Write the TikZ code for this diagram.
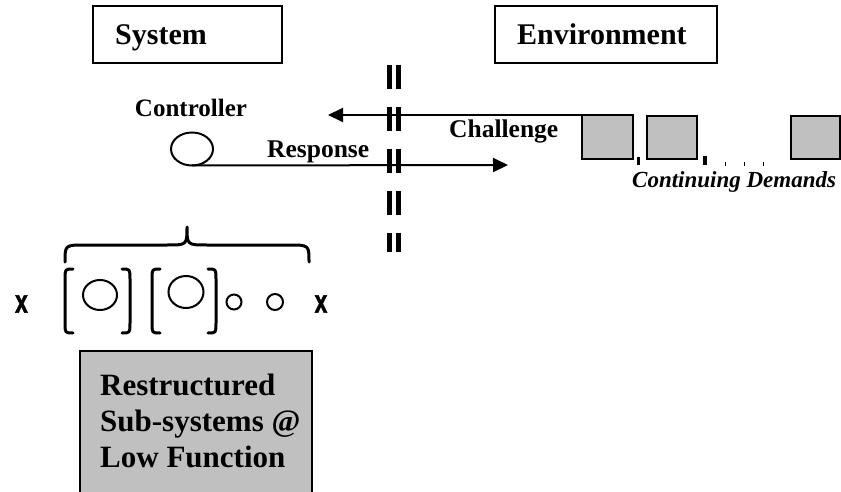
\documentclass[tikz,border=0pt]{standalone}
\usepackage{fontspec}
\setmainfont{Liberation Serif}
\newfontfamily\xmarkfont[BoldFeatures={FakeBold=1.5}]{Liberation Sans}
\usetikzlibrary{arrows.meta,shapes.geometric}
\definecolor{boxgray}{HTML}{C0C0C0}
\begin{document}
\begin{tikzpicture}[x=1pt,y=-1pt,
  titlebox/.style={draw=black, line width=1.2pt, inner sep=0pt, outer sep=0pt, anchor=north west},
  titletext/.style={inner sep=0pt, anchor=base west, font=\bfseries\fontsize{30}{36}\selectfont},
  armlabel/.style={inner sep=0pt, anchor=base west, font=\bfseries\fontsize{25.5}{30}\selectfont},
  boxtext/.style={inner sep=0pt, anchor=base west, font=\bfseries\fontsize{31}{36}\selectfont},
  demand/.style={draw=black, line width=2.5pt, fill=boxgray, inner sep=0pt, outer sep=0pt, anchor=north west},
  arrowline/.style={line width=2pt, -{Triangle[length=15pt,width=14pt]}},
  sepbar/.style={line width=5pt, dash pattern=on 24pt off 18pt},
  bracketline/.style={line width=3pt, line cap=round, line join=round},
  ring/.style={ellipse, draw=black, line width=2pt, inner sep=0pt, outer sep=0pt},
  tick/.style={line width=#1},
  xmark/.style={inner sep=0pt}
]
\useasboundingbox (0,0) rectangle (841,492);

% title boxes
\node[titlebox, minimum width=189pt, minimum height=57pt] (sysbox) at (93,6) {};
\node[titletext] (systxt) at (115,45) {System};
\node[titlebox, minimum width=222pt, minimum height=57pt] (envbox) at (495,6) {};
\node[titletext] (envtxt) at (517,45) {Environment};

% controller
\node[ring, minimum width=42pt, minimum height=33pt] (ctrl) at (192,149) {};
\node[inner sep=0pt, anchor=base, font=\bfseries\fontsize{25}{30}\selectfont] (ctrltxt) at (191,117) {Controller};

% demands
\node[demand, minimum width=51pt, minimum height=44pt] (d1) at (582,115) {};
\node[demand, minimum width=50pt, minimum height=43pt] (d2) at (647,116) {};
\node[demand, minimum width=49pt, minimum height=43pt] (d3) at (791,116) {};
\draw[tick=3pt] (638,157) -- (638,165);
\draw[tick=4pt] (705,156) -- (705,165);
\draw[tick=1pt] (725,162) -- (725,166);
\draw[tick=1pt] (744,162) -- (744,166);
\draw[tick=1pt] (763,162) -- (763,166);
\node[inner sep=0pt, anchor=base west, font=\bfseries\itshape\fontsize{23}{28}\selectfont] (demtxt) at (632,188) {Continuing Demands};

% arrows
\coordinate (chEnd) at (328,115);
\coordinate (respEnd) at (508,165);
\draw[arrowline] (d1.north west) -- (chEnd);
\draw[arrowline] (ctrl.south) -- (respEnd);
\node[armlabel] (resptxt) at (267,158) {Response};
\node[armlabel] (chtxt) at (449,138) {Challenge};

% separator
\coordinate (sepTopA) at (389.5,65);
\coordinate (sepBotA) at (389.5,252);
\coordinate (sepTopB) at (398.5,65);
\coordinate (sepBotB) at (398.5,252);
\draw[sepbar] (sepTopA) -- (sepBotA);
\draw[sepbar] (sepTopB) -- (sepBotB);

% brace
\draw[bracketline] (65,262) .. controls (65,245) .. (85,245) -- (167,245)
  .. controls (187,245) .. (187,227) .. controls (187,245) .. (207,245)
  -- (289,245) .. controls (309,245) .. (309,262);

% brackets
\draw[bracketline] (73,269) .. controls (65,269) .. (65,279) -- (65,323) .. controls (65,333) .. (73,333);
\draw[bracketline] (122,269) .. controls (130,269) .. (130,279) -- (130,323) .. controls (130,333) .. (122,333);
\draw[bracketline] (160,269) .. controls (152,269) .. (152,279) -- (152,323) .. controls (152,333) .. (160,333);
\draw[bracketline] (208,269) .. controls (216,269) .. (216,279) -- (216,323) .. controls (216,333) .. (208,333);

% sub-system circles
\node[ring, minimum width=34pt, minimum height=30pt] (c1) at (100,295) {};
\node[ring, minimum width=35pt, minimum height=32pt] (c2) at (186,292) {};
\node[ring, minimum width=15pt, minimum height=15pt] (s1) at (234,302) {};
\node[ring, minimum width=16pt, minimum height=16pt] (s2) at (275,302) {};

% x marks
\node[xmark] (xl) at (21.5,304) {\scalebox{0.7}[1]{\xmarkfont\bfseries\fontsize{33}{33}\selectfont x}};
\node[xmark] (xr) at (321,304) {\scalebox{0.7}[1]{\xmarkfont\bfseries\fontsize{33}{33}\selectfont x}};

% restructured box
\node[draw=black, line width=1.5pt, fill=boxgray, inner sep=0pt, outer sep=0pt, anchor=north west,
  minimum width=232pt, minimum height=150pt] (rbox) at (80,351) {};
\node[boxtext] (rt1) at (100,395) {Restructured};
\node[boxtext] (rt2) at (100,431) {Sub-systems @};
\node[boxtext] (rt3) at (100,467) {Low Function};
\end{tikzpicture}
\end{document}
